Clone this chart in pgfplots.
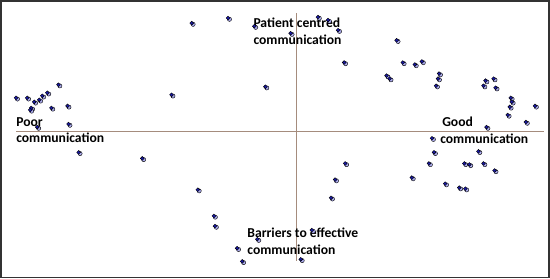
\documentclass[border=0pt]{standalone}
\usepackage{pgfplots}
\pgfplotsset{compat=1.18}
\usepackage{fontspec}
\setmainfont{Carlito}
\definecolor{dotDark}{RGB}{25, 25, 165}
\definecolor{dotLight}{RGB}{170, 170, 235}
\definecolor{crossLine}{RGB}{165, 140, 125}

% point positions, picture units (x to the right, y downward)
\pgfplotstableread{
x y
60 86
18 99
29 99
36 103
41 101
44 97
49 94
33 109
32 111
53 109
69 107
70 125
39 128
172 96
192 25
228 20
254 28
290 35
317 19
327 22
337 32
343 64
265 88
395 42
401 64
413 66
420 63
385 77
388 80
437 75
436 80
434 87
483 82
491 80
481 87
493 89
508 99
509 103
507 108
532 107
505 116
523 123
484 128
430 139
432 153
476 152
427 164
462 164
467 165
481 164
492 171
410 178
443 184
457 188
463 189
80 153
143 159
344 164
334 180
330 198
198 190
214 216
215 226
311 230
257 239
237 248
242 261
300 259
}\points

\begin{document}
\begin{tikzpicture}
\begin{axis}[
    width=550bp, height=283bp, scale only axis,
    xmin=0, xmax=550, ymin=0, ymax=283, y dir=reverse,
    hide axis, clip=false,
]
% frame and the two crossing lines
\draw[line width=1.8bp, black!80] (axis cs:3,3) rectangle (axis cs:546,277);
\draw[line width=0.9bp, crossLine] (axis cs:18,132) -- (axis cs:541,132);
\draw[line width=0.9bp, crossLine] (axis cs:296,15) -- (axis cs:296,261);

% shaded balls: light half first, dark on top
\addplot[only marks, mark=*, mark size=2.1bp,
    mark options={fill=dotLight, draw=none, xshift=1.4bp, yshift=-1.2bp}]
    table[x=x, y=y] {\points};
\addplot[only marks, mark=*, mark size=1.9bp,
    mark options={fill=dotDark, draw=none}]
    table[x=x, y=y] {\points};

\tikzset{lbl/.style={anchor=north west, inner sep=0pt, align=left,
    font=\fontsize{13.5bp}{16.5bp}\selectfont\bfseries}}
\node[lbl] at (axis cs:253,20) {Patient centred\\communication};
\node[lbl] at (axis cs:18,118) {Poor\\communication};
\node[lbl] at (axis cs:438,118) {\hspace*{2bp}Good\\communication};
\node[lbl] at (axis cs:247,228) {Barriers to effective\\communication};
\end{axis}
\end{tikzpicture}
\end{document}
